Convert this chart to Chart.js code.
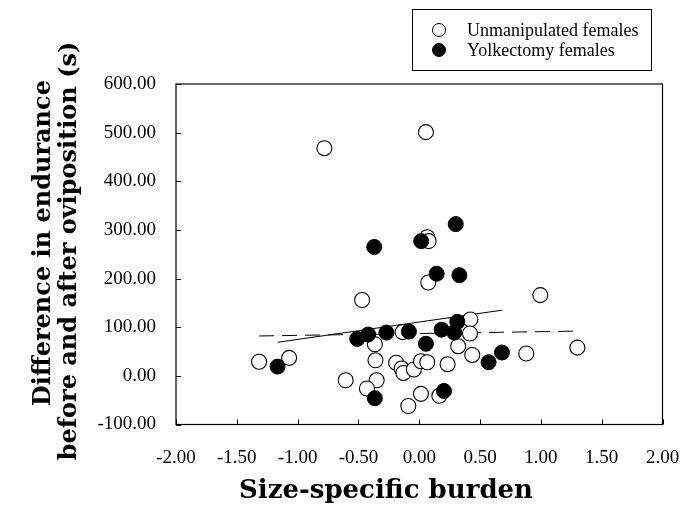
<!DOCTYPE html>
<html>
<head>
<meta charset="utf-8">
<script src="https://cdn.jsdelivr.net/npm/chart.js@4/dist/chart.umd.min.js"></script>
<style>
  html, body { margin: 0; padding: 0; background: #fff; }
</style>
</head>
<body>
<canvas id="chart" width="697" height="508"></canvas>
<script>
// values
const unmanipX = [-0.78, 0.055, 0.066, 0.077, 0.074, -0.47, 0.995, 0.42, -0.137, 0.417, -0.365, 0.32, 0.436, 0.88, 1.30,
                  -1.317, -1.07, -0.36, -0.19, -0.145, -0.13, -0.044, 0.014, 0.066, 0.233, -0.605, -0.35, -0.43, -0.09, 0.014, 0.165];
const unmanipY = [468, 501, 285, 277, 192, 156, 166, 116, 90, 87, 65, 61, 43, 46, 58,
                  29, 37, 32, 27, 15, 6, 13, 30, 28, 24, -9, -9, -26, -62, -37, -41];

const yolkX = [-1.165, -0.51, -0.42, -0.27, -0.085, 0.055, 0.184, 0.288, 0.313, 0.30, -0.37, 0.016, 0.143, 0.33, 0.57, 0.68, -0.365, 0.203];
const yolkY = [19, 76, 85, 89, 91, 66, 95, 89, 111, 312, 265, 277, 210, 207, 28, 48, -46, -31];

// regression lines (end points)
const unmanipFitX = [-1.317, 1.30];
const unmanipFitY = [82, 92];
const yolkFitX = [-1.165, 0.68];
const yolkFitY = [69, 135];

const xTicks = [-2, -1.5, -1, -0.5, 0, 0.5, 1, 1.5, 2];
const yTicks = [-100, 0, 100, 200, 300, 400, 500, 600];

const seriesNames = ['Unmanipulated females', 'Yolkectomy females'];
const yTitle = ['Difference in endurance', 'before and after oviposition (s)'];
const xTitle = 'Size-specific burden';

const toPoints = (xs, ys) => xs.map((x, i) => ({ x: x, y: ys[i] }));

// frame, inward ticks, axis titles and the boxed legend
const decorPlugin = {
    id: 'decor',
    afterDraw(chart) {
        const { ctx, chartArea: a, scales } = chart;
        ctx.save();
        ctx.strokeStyle = '#000';
        ctx.lineWidth = 1.2;
        ctx.strokeRect(a.left, a.top, a.right - a.left, a.bottom - a.top);

        ctx.lineWidth = 1;
        ctx.beginPath();
        xTicks.forEach(v => {
            const px = Math.round(scales.x.getPixelForValue(v)) + 0.5;
            ctx.moveTo(px, a.bottom);
            ctx.lineTo(px, a.bottom - 5);
        });
        yTicks.forEach(v => {
            const py = Math.round(scales.y.getPixelForValue(v)) + 0.5;
            ctx.moveTo(a.left, py);
            ctx.lineTo(a.left + 5, py);
        });
        ctx.stroke();

        // y title, two rotated lines
        ctx.fillStyle = '#000';
        ctx.font = 'bold 24px "DejaVu Serif"';
        ctx.textAlign = 'center';
        ctx.textBaseline = 'alphabetic';
        [[50, 243], [76, 251]].forEach((p, i) => {
            ctx.save();
            ctx.translate(p[0], p[1]);
            ctx.rotate(-Math.PI / 2);
            ctx.fillText(yTitle[i], 0, 0);
            ctx.restore();
        });

        // x title
        ctx.font = 'bold 26px "DejaVu Serif"';
        ctx.fillText(xTitle, 386, 498);

        // legend
        ctx.lineWidth = 1;
        ctx.strokeRect(412.5, 9.5, 239, 61);
        ctx.font = '18px "Liberation Serif"';
        ctx.textAlign = 'left';
        ctx.textBaseline = 'middle';
        [[30, 1], [50, 0]].forEach((row, i) => {
            const ds = chart.data.datasets[row[1]];
            ctx.beginPath();
            ctx.arc(439, row[0], 6.5, 0, Math.PI * 2);
            ctx.fillStyle = ds.backgroundColor;
            ctx.fill();
            ctx.strokeStyle = ds.borderColor;
            ctx.stroke();
            ctx.fillStyle = '#000';
            ctx.fillText(seriesNames[i], 467, row[0] + 1);
        });
        ctx.restore();
    }
};

const tickFont = { family: '"Liberation Serif"', size: 19 };

new Chart(document.getElementById('chart'), {
    type: 'scatter',
    data: {
        datasets: [
            {
                label: seriesNames[1],
                data: toPoints(yolkX, yolkY),
                backgroundColor: '#000',
                borderColor: '#000',
                borderWidth: 1,
                pointRadius: 7.5,
                order: 0
            },
            {
                label: seriesNames[0],
                data: toPoints(unmanipX, unmanipY),
                backgroundColor: '#fff',
                borderColor: '#000',
                borderWidth: 1.1,
                pointRadius: 7.5,
                order: 1
            },
            {
                type: 'line',
                label: 'fit unmanipulated',
                data: toPoints(unmanipFitX, unmanipFitY),
                borderColor: '#000',
                borderWidth: 1,
                borderDash: [15, 8],
                pointRadius: 0,
                fill: false,
                order: 2
            },
            {
                type: 'line',
                label: 'fit yolkectomy',
                data: toPoints(yolkFitX, yolkFitY),
                borderColor: '#000',
                borderWidth: 1,
                pointRadius: 0,
                fill: false,
                order: 2
            }
        ]
    },
    options: {
        responsive: false,
        animation: false,
        devicePixelRatio: 1,
        layout: { padding: { left: 0, top: 84, right: 34.5, bottom: 0 } },
        plugins: {
            legend: { display: false },
            tooltip: { enabled: false }
        },
        scales: {
            x: {
                type: 'linear',
                min: -2,
                max: 2,
                afterBuildTicks: s => { s.ticks = xTicks.map(v => ({ value: v })); },
                afterFit: s => { s.height = 83.5; },
                grid: { display: false },
                border: { display: false },
                ticks: {
                    color: '#000',
                    font: tickFont,
                    padding: 14,
                    maxRotation: 0,
                    callback: v => v.toFixed(2)
                }
            },
            y: {
                min: -100,
                max: 600,
                afterBuildTicks: s => { s.ticks = yTicks.map(v => ({ value: v })); },
                afterFit: s => { s.width = 176; },
                grid: { display: false },
                border: { display: false },
                ticks: {
                    color: '#000',
                    font: tickFont,
                    padding: 12,
                    callback: v => v.toFixed(2)
                }
            }
        }
    },
    plugins: [decorPlugin]
});
</script>
</body>
</html>
